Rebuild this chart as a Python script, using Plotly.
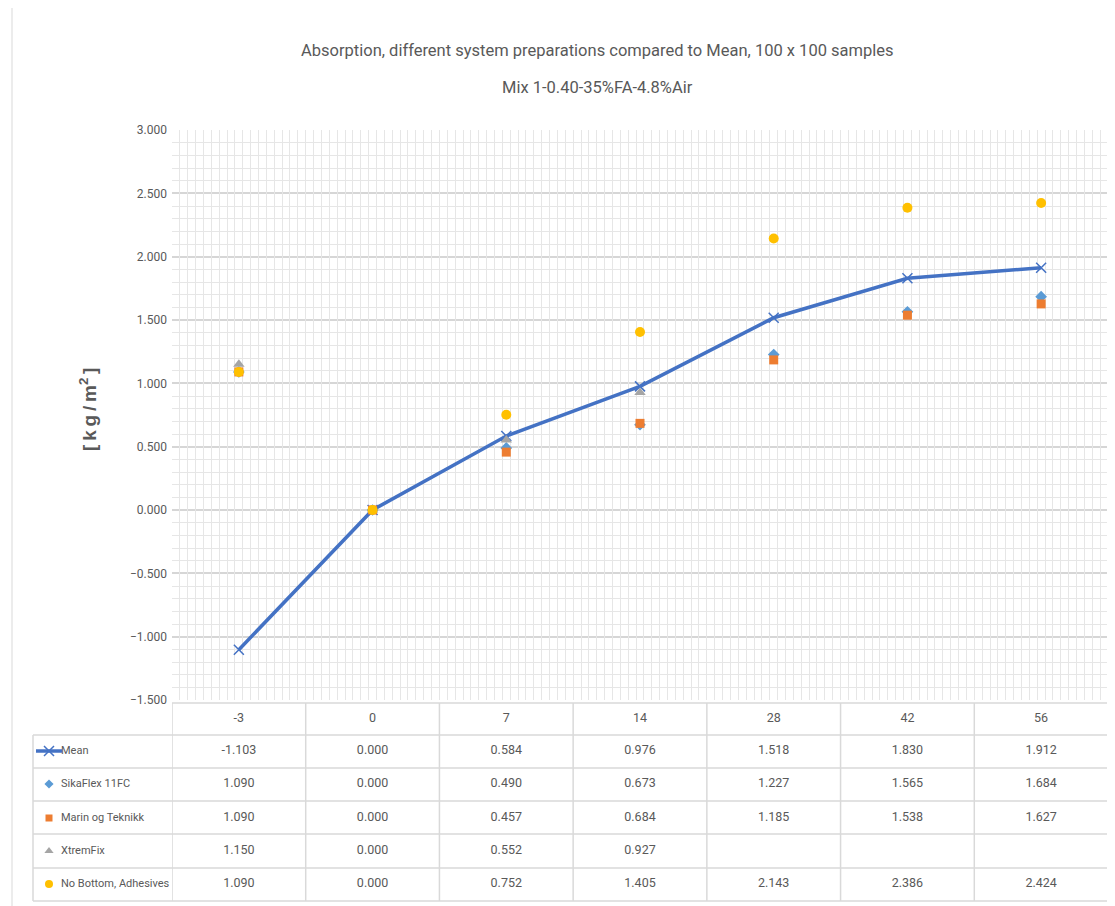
import plotly.graph_objects as go

# ---------------- data ----------------
days = ["-3", "0", "7", "14", "28", "42", "56"]
mean = [-1.103, 0.000, 0.584, 0.976, 1.518, 1.830, 1.912]
sikaflex = [1.090, 0.000, 0.490, 0.673, 1.227, 1.565, 1.684]
marin = [1.090, 0.000, 0.457, 0.684, 1.185, 1.538, 1.627]
xtremfix = [1.150, 0.000, 0.552, 0.927, None, None, None]
no_bottom = [1.090, 0.000, 0.752, 1.405, 2.143, 2.386, 2.424]

series_names = ["Mean", "SikaFlex 11FC", "Marin og Teknikk", "XtremFix", "No Bottom, Adhesives"]
series_values = [mean, sikaflex, marin, xtremfix, no_bottom]

title_line1 = "Absorption, different system preparations compared to Mean, 100 x 100 samples"
title_line2 = "Mix 1-0.40-35%FA-4.8%Air"
y_title = "<b>[\u2009k\u2009g\u2009/\u2009m<sup>2</sup>\u2009]</b>"

# ---------------- layout helpers (page pixels) ----------------
OFF = 8                      # default page body margin
W, H = 1115 - OFF, 906 - OFF  # figure size so the page fits the window


def px(v):
    return v - OFF


PL, PR, PT, PB = 172, 1108, 130, 700  # plot area in page pixels
TAB_LEFT = 33
HEADER_TOP = 703
ROW_LINES = [735, 768, 801, 834, 868, 901]
HEADER_Y = 719
ROW_Y = [751, 784, 818, 851, 884]

FONT = "Roboto, Liberation Sans, sans-serif"
TXT = "#595959"
GRID_MAJ = "#d6d6d6"
GRID_MIN = "#e6e6e6"
TAB_LINE = "#d9d9d9"

colors = ["#4472C4", "#5B9BD5", "#ED7D31", "#A5A5A5", "#FFC000"]
symbols = ["x-thin", "diamond", "square", "triangle-up", "circle"]
sizes = [10, 9, 9, 10, 10]

fig = go.Figure()

# invisible trace to activate minor vertical grid axis
fig.add_trace(go.Scatter(x=[-0.5, 6.5], y=[0, 0], xaxis="x3", yaxis="y",
                         mode="markers", marker=dict(opacity=0), hoverinfo="skip",
                         showlegend=False))

# chart series
for i, (name, vals) in enumerate(zip(series_names, series_values)):
    if i == 0:
        fig.add_trace(go.Scatter(
            x=days, y=vals, name=name, mode="lines+markers",
            line=dict(color=colors[i], width=3.5),
            marker=dict(symbol=symbols[i], size=sizes[i],
                        line=dict(color=colors[i], width=1.5)),
            showlegend=False, xaxis="x", yaxis="y"))
    else:
        fig.add_trace(go.Scatter(
            x=days, y=vals, name=name, mode="markers",
            marker=dict(symbol=symbols[i], size=sizes[i], color=colors[i],
                        line=dict(width=0)),
            showlegend=False, xaxis="x", yaxis="y"))

# ---------------- data table ----------------
fig.add_trace(go.Scatter(
    x=days, y=[px(HEADER_Y)] * len(days), mode="text", text=days,
    textfont=dict(family=FONT, size=12.5, color=TXT),
    xaxis="x", yaxis="y2", showlegend=False, hoverinfo="skip", cliponaxis=False))

for i, vals in enumerate(series_values):
    cx = [d for d, v in zip(days, vals) if v is not None]
    ct = [f"{v:.3f}" for v in vals if v is not None]
    fig.add_trace(go.Scatter(
        x=cx, y=[px(ROW_Y[i])] * len(cx), mode="text", text=ct,
        textfont=dict(family=FONT, size=12.5, color=TXT),
        xaxis="x", yaxis="y2", showlegend=False, hoverinfo="skip", cliponaxis=False))

# row labels
fig.add_trace(go.Scatter(
    x=[px(61)] * len(series_names), y=[px(r) for r in ROW_Y], mode="text", text=series_names,
    textposition="middle right",
    textfont=dict(family=FONT, size=11, color=TXT),
    xaxis="x2", yaxis="y2", showlegend=False, hoverinfo="skip", cliponaxis=False))

# legend keys
fig.add_trace(go.Scatter(
    x=[px(36), px(62)], y=[px(ROW_Y[0])] * 2, mode="lines",
    line=dict(color=colors[0], width=3.5),
    xaxis="x2", yaxis="y2", showlegend=False, hoverinfo="skip"))
for i in range(len(series_names)):
    fig.add_trace(go.Scatter(
        x=[px(49)], y=[px(ROW_Y[i])], mode="markers",
        marker=dict(symbol=symbols[i], size=sizes[i] - (2 if i else 0), color=colors[i],
                    line=dict(color=colors[i], width=1.5 if i == 0 else 0)),
        xaxis="x2", yaxis="y2", showlegend=False, hoverinfo="skip"))

# table lines
shapes = []
shapes.append(dict(type="line", xref="x2", yref="y2", x0=px(PL), x1=px(PR),
                   y0=px(HEADER_TOP), y1=px(HEADER_TOP), line=dict(color=TAB_LINE, width=1.5)))
for yl in ROW_LINES:
    shapes.append(dict(type="line", xref="x2", yref="y2", x0=px(TAB_LEFT), x1=px(PR),
                       y0=px(yl), y1=px(yl), line=dict(color=TAB_LINE, width=1.5)))
shapes.append(dict(type="line", xref="x2", yref="y2", x0=px(TAB_LEFT), x1=px(TAB_LEFT),
                   y0=px(ROW_LINES[0]), y1=px(ROW_LINES[-1]), line=dict(color=TAB_LINE, width=1.5)))
for k in range(len(days) + 1):
    shapes.append(dict(type="line", xref="x", yref="y2", x0=k - 0.5, x1=k - 0.5,
                       y0=px(HEADER_TOP), y1=px(ROW_LINES[-1]), line=dict(color=TAB_LINE, width=1.5)))
# chart area left border
shapes.append(dict(type="line", xref="x2", yref="y2", x0=px(12), x1=px(12), y0=0, y1=H,
                   line=dict(color="#d9d9d9", width=1)))

fig.update_layout(
    width=W, height=H,
    margin=dict(l=0, r=0, t=0, b=0, autoexpand=False),
    paper_bgcolor="white", plot_bgcolor="rgba(0,0,0,0)",
    shapes=shapes,
    xaxis=dict(domain=[px(PL) / W, px(PR) / W], type="category", range=[-0.5, 6.5],
               showgrid=False, showticklabels=False, zeroline=False, showline=False,
               anchor="y", automargin=False),
    xaxis3=dict(domain=[px(PL) / W, px(PR) / W], overlaying="x", range=[-0.5, 6.5],
                showgrid=True, gridcolor=GRID_MIN, gridwidth=1, dtick=1 / 17, tick0=-0.5,
                showticklabels=False, zeroline=False, showline=False, anchor="y",
                automargin=False),
    yaxis=dict(domain=[1 - px(PB) / H, 1 - px(PT) / H], range=[-1.5, 3.0],
               dtick=0.5, tick0=0, tickformat=".3f",
               showgrid=True, gridcolor=GRID_MAJ, gridwidth=2,
               minor=dict(dtick=0.1, showgrid=True, gridcolor=GRID_MIN, gridwidth=1),
               zeroline=False, showline=False, ticks="", ticklabelstandoff=4,
               tickfont=dict(family=FONT, size=12, color=TXT), anchor="x",
               automargin=False),
    xaxis2=dict(domain=[0, 1], range=[0, W], visible=False, anchor="y2", automargin=False),
    yaxis2=dict(domain=[0, 1], range=[H, 0], visible=False, anchor="x2", automargin=False),
    annotations=[
        dict(text=title_line1, xref="paper", yref="paper", x=px(597) / W, y=1 - px(50) / H,
             xanchor="center", yanchor="middle",
             showarrow=False, font=dict(family=FONT, size=16.5, color=TXT)),
        dict(text=title_line2, xref="paper", yref="paper", x=px(597) / W, y=1 - px(88) / H,
             xanchor="center", yanchor="middle",
             showarrow=False, font=dict(family=FONT, size=16.5, color=TXT)),
        dict(text=y_title, xref="paper", yref="paper", x=px(88) / W, y=1 - px(410) / H,
             xanchor="center", yanchor="middle",
             textangle=-90, showarrow=False,
             font=dict(family="Liberation Sans, Arial, sans-serif", size=19, color=TXT)),
    ],
)

fig.write_html("out.html")
